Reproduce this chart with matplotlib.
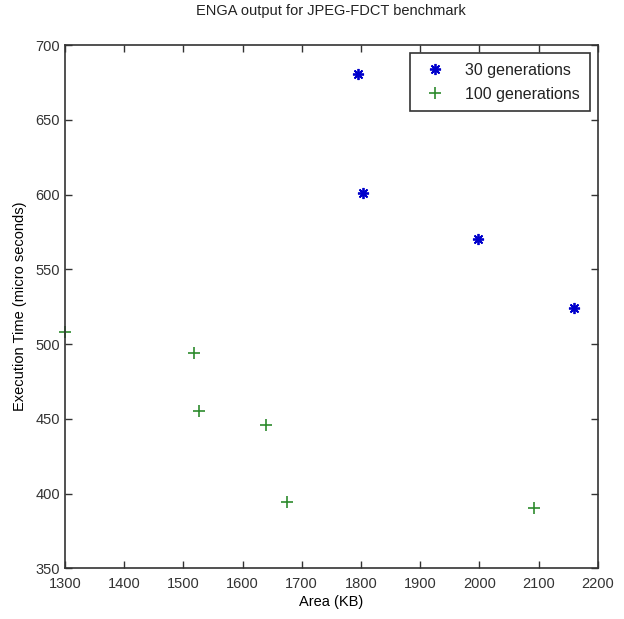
import matplotlib as mpl
import matplotlib.pyplot as plt

# values
area_30 = [1795, 1803, 1998, 2160]
time_30 = [681, 601, 570, 524]
area_100 = [1300, 1518, 1527, 1640, 1675, 2093]
time_100 = [508, 494, 455, 446, 394, 390]

x_ticks = list(range(1300, 2201, 100))
y_ticks = list(range(350, 701, 50))

mpl.rcParams.update(
    {
        "font.family": ["Liberation Sans", "DejaVu Sans"],
        "font.size": 10.5,
        "axes.linewidth": 1.2,
        "axes.edgecolor": "#333333",
        "xtick.direction": "in",
        "ytick.direction": "in",
        "xtick.top": True,
        "ytick.right": True,
        "xtick.color": "#333333",
        "ytick.color": "#333333",
        "text.color": "#222222",
    }
)

fig = plt.figure(figsize=(6.24, 6.19), dpi=100)
ax = fig.add_axes([0.104, 0.082, 0.854, 0.845])

ax.plot(area_30, time_30, linestyle="none", marker=(8, 2, 0), markersize=8,
        markeredgewidth=1.3, color="#0000cc", label="30 generations")
ax.plot(area_100, time_100, linestyle="none", marker="+", markersize=8,
        markeredgewidth=1.2, color="#2e8b2e", label="100 generations", clip_on=False)

ax.set_xlim(1300, 2200)
ax.set_ylim(350, 700)
ax.set_xticks(x_ticks)
ax.set_yticks(y_ticks)
ax.tick_params(length=5, width=1.0, labelsize=10.5)
ax.tick_params(axis="x", pad=6)
ax.set_xlabel("Area (KB)", labelpad=3)
ax.set_ylabel("Execution Time (micro seconds)", labelpad=6)
ax.set_title("ENGA output for JPEG-FDCT benchmark", fontsize=10.5, pad=22)

leg = ax.legend(loc="upper right", fancybox=False, framealpha=1,
                edgecolor="#333333", borderaxespad=0.5, borderpad=0.6,
                labelspacing=0.55, handletextpad=0.9, fontsize=11.5)
leg.get_frame().set_linewidth(1.2)

fig.savefig("out.png", dpi=100)
